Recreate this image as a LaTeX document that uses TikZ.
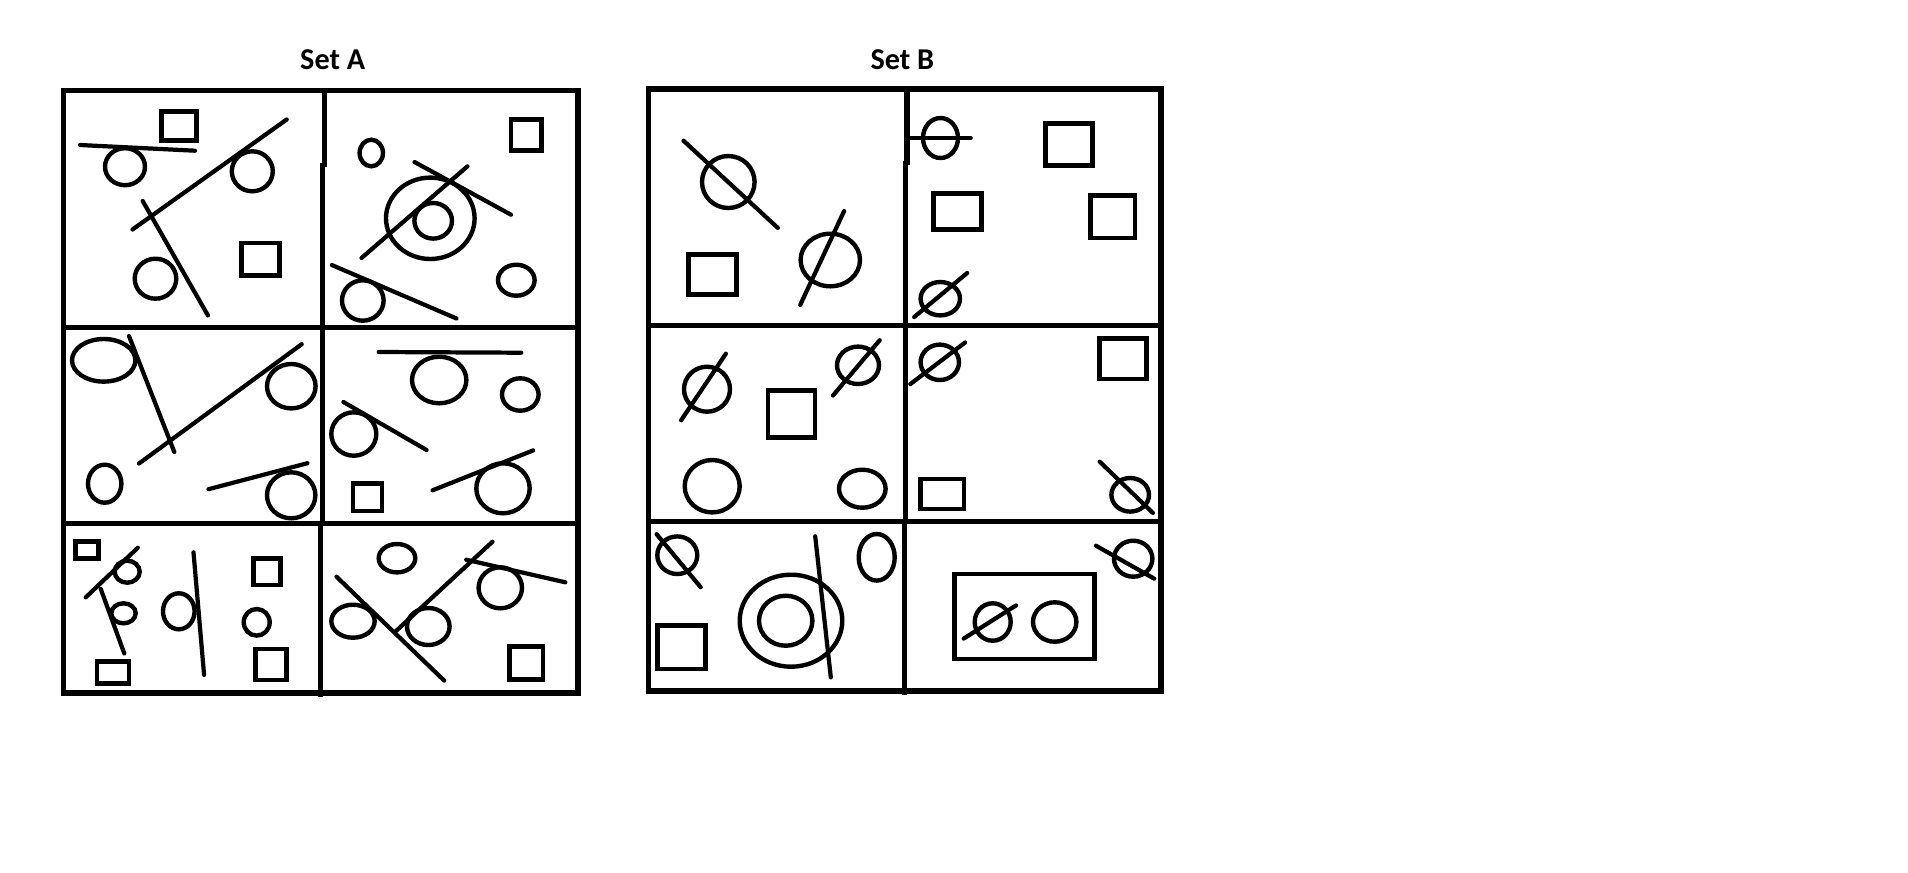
\documentclass[tikz,border=0pt]{standalone}
\usepackage{tikz}
\usepackage{fontspec}
\setmainfont{Carlito}
\usetikzlibrary{positioning}

\begin{document}
\begin{tikzpicture}[x=0.01cm, y=-0.01cm,
    panel/.style={line width=1.45pt},
    box/.style={line width=1.4pt},
    outline/.style={line width=1.25pt},
    stroke/.style={line width=1.2pt, line cap=round},
    settitle/.style={anchor=base, inner sep=0pt, font=\bfseries\fontsize{8.6}{10}\selectfont}]
    \useasboundingbox (0,0) rectangle (1908,872);

    \node (setA) [settitle] at (332.7,69.3) {Set A};
    \node (setB) [settitle] at (902.3,69.3) {Set B};

    \draw [panel] (63.3,90.8) rectangle (578,693);
    \draw [panel] (63.3,327.7) -- (578,327.7);
    \draw [panel] (63.3,523.3) -- (578,523.3);
    \draw [panel] (324.5,90.8) -- (324.5,167);
    \draw [panel] (322.4,163) -- (322.4,525);
    \draw [panel] (320.6,521) -- (320.6,697);

    \draw [panel] (648.7,89) rectangle (1161,691);
    \draw [panel] (648.7,325.5) -- (1161,325.5);
    \draw [panel] (648.7,521.3) -- (1161,521.3);
    \draw [panel] (907,89) -- (907,165);
    \draw [panel] (905.3,161) -- (905.3,523);
    \draw [panel] (904.3,519) -- (904.3,695.3);

    \draw [box] (161.5,111.8) rectangle (196.8,140.8);
    \draw [box] (241.3,243) rectangle (279.7,275.3);
    \draw [box] (511,119.7) rectangle (541.3,150.3);
    \draw [box] (353,483.3) rectangle (382,511);
    \draw [box] (75.3,541.7) rectangle (98.7,558.3);
    \draw [box] (97,661.7) rectangle (129,683.3);
    \draw [box] (253.7,558.3) rectangle (280.3,585);
    \draw [box] (255.3,649) rectangle (286.3,680);
    \draw [box] (509.7,646.7) rectangle (543,679.3);
    \draw [box] (688.7,254.7) rectangle (736.3,294.7);
    \draw [box] (1045.7,123.7) rectangle (1092.3,165.7);
    \draw [box] (933.7,193.7) rectangle (981.3,229.7);
    \draw [box] (1090.7,195.3) rectangle (1135,238);
    \draw [box] (768,390.7) rectangle (815,437.3);
    \draw [box] (1099.7,338.3) rectangle (1146.3,379);
    \draw [box] (920.7,479) rectangle (964,509);
    \draw [box] (657.3,625.7) rectangle (705.7,669);
    \draw [box] (954.7,574) rectangle (1094.7,659);

    \foreach \cx/\cy/\rx/\ry in {125/166.7/20/18.5, 252.3/171.3/20.5/20, 155.5/278.7/20.8/20,
        371.3/153/11.7/13.3, 430.3/218.3/44.3/40.7, 433.2/220.8/18.8/17.8, 362.8/300.5/20.8/20.2, 516.3/280.2/18.3/15.5,
        103.7/360.3/31.7/21.3, 291.3/386.2/24.3/22.2, 104.7/483.7/16.7/19, 291.2/495.3/24.2/23,
        439.2/380/27.2/23.3, 520.3/394.5/18.3/16.2, 353.8/434/22.5/21.7, 503/488.3/26.7/25,
        127.2/571.7/12.5/11, 123.5/613.3/12.2/10, 178.8/611.3/15.8/18, 256.7/622.3/13/13.3,
        397/558.2/18.3/14.2, 500.3/587.8/21.7/20.5, 353/621.2/21.7/16.5, 428.3/626.5/21.3/18.5,
        728.3/182/26.3/26, 830.3/260/29.7/26.3,
        940.5/138/17.5/20, 940.3/298.7/19.7/16.7,
        707/389.2/23/22.5, 858/365.3/21/18.7, 712.2/486.2/27.5/26.2, 862.3/488.7/23.3/19,
        939.8/362.3/19.2/17.7, 1130.2/494.8/18.8/16.8,
        677.3/555.2/20/18.8, 791/620.7/51.3/46, 785.7/620.7/26.7/25, 876.7/557.3/18/23.3,
        1133.2/558.7/19.2/18, 992.7/622/18/18.7, 1054.7/622/21.7/19.7}
        \draw [outline] (\cx,\cy) ellipse [x radius=\rx, y radius=\ry];

    \foreach \ax/\ay/\bx/\by in {80/145/195/150.7, 132.5/229.5/286.7/119.5, 142.7/201/208/315.5,
        414.5/162/511/214.7, 361.5/258/467.5/166.3, 331.8/265/456.5/318.5,
        129/336/174.3/452, 139/463.5/301.7/344.2, 208.5/489.2/307.5/463.2,
        378.7/352/521.3/352.7, 343.4/402/426.6/450, 432.5/490.3/533.2/450.4,
        85.8/597.3/137.8/547.7, 100.7/588.8/124.3/653.5, 193.5/552.3/204.1/675,
        336.5/576.7/444.2/680.6, 396.5/630.6/492.5/541.7, 466.2/559.7/565.4/582.3,
        683.5/140.7/777.8/227.9, 800.2/304.9/844.1/211.1,
        909.3/138/970.7/138, 914.2/317/967.2/273,
        681.1/420.3/725.9/353.7, 833/395.5/879.7/340.2,
        910.3/384.1/965.1/342.5, 1099.7/461.7/1152.9/512.9,
        656.6/534.2/700.7/587.2, 815.2/536.3/830.8/677.3,
        1096/545.7/1154.3/578.7, 963.7/638.6/1016/605.4}
        \draw [stroke] (\ax,\ay) -- (\bx,\by);
\end{tikzpicture}
\end{document}
